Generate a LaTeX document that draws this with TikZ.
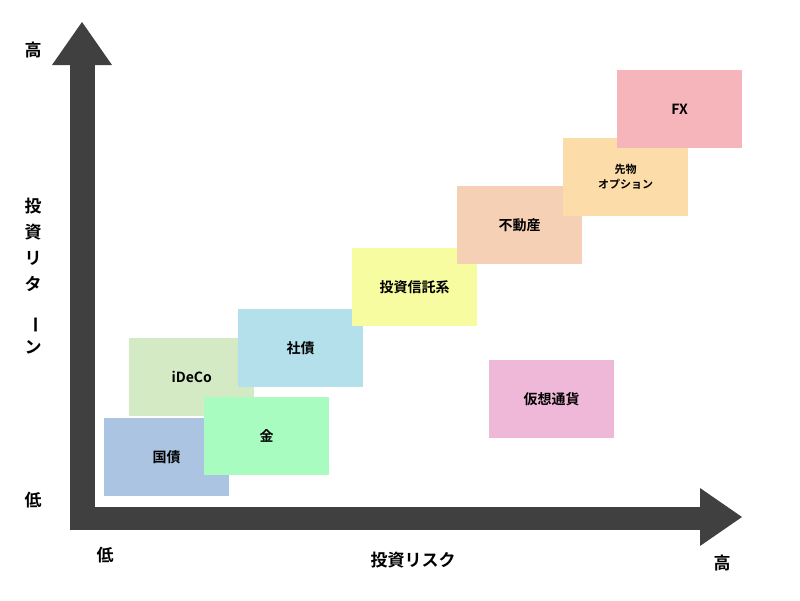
\documentclass[tikz,border=0pt]{standalone}
\usepackage{fontspec}
\newfontfamily\jp{Noto Sans CJK JP Bold}
\usetikzlibrary{positioning}
\definecolor{axisgray}{HTML}{404040}
\begin{document}
\begin{tikzpicture}[x=1pt, y=-1pt, font=\jp]
    \tikzset{riskbox/.style={minimum width=125pt, minimum height=78pt,
        inner sep=0pt, anchor=north west, font=\jp\fontsize{14}{16}\selectfont},
        axislabel/.style={font=\jp\fontsize{17}{20}\selectfont}}
    \useasboundingbox (0,0) rectangle (800,600);
    % axes
    \fill[axisgray] (70,64) rectangle (95,530);
    \fill[axisgray] (52,65) -- (82,22) -- (112,65) -- cycle;
    \fill[axisgray] (70,507) rectangle (702,530);
    \fill[axisgray] (700,488) -- (742,517) -- (700,546) -- cycle;
    % boxes
    \node[riskbox, fill={rgb,255:red,170;green,196;blue,226}] (kokusai) at (104,418) {国債};
    \node[riskbox, fill={rgb,255:red,212;green,234;blue,196}] (ideco) at (129,338) {iDeCo};
    \node[riskbox, fill={rgb,255:red,168;green,252;blue,192}] (kin) at (204,397) {金};
    \node[riskbox, fill={rgb,255:red,180;green,224;blue,236}] (shasai) at (238,309) {社債};
    \node[riskbox, fill={rgb,255:red,248;green,252;blue,160}] (toshin) at (352,248) {投資信託系};
    \node[riskbox, fill={rgb,255:red,245;green,208;blue,181}] (fudosan) at (457,186) {不動産};
    \node[riskbox, fill={rgb,255:red,252;green,220;blue,168}, align=center,
        font=\jp\fontsize{11}{15}\selectfont] (sakimono) at (563,138) {先物\\オプション};
    \node[riskbox, fill={rgb,255:red,246;green,181;blue,187}] (fx) at (617,70) {FX};
    \node[riskbox, fill={rgb,255:red,239;green,184;blue,216}] (kaso) at (489,360) {仮想通貨};
    % labels
    \node[axislabel] (yhigh) at (33,50) {高};
    \node[axislabel] (ylow) at (33,500) {低};
    \node[axislabel, align=center, inner sep=0pt] (ytitle) at (33,276)
        {投\\[6pt]資\\[6pt]リ\\[6pt]タ\\[6pt]\rotatebox{-90}{ー}\\[6pt]ン};
    \node[axislabel] (xlow) at (105,555) {低};
    \node[axislabel] (xtitle) at (413,560) {投資リスク};
    \node[axislabel] (xhigh) at (722,563) {高};
\end{tikzpicture}
\end{document}
